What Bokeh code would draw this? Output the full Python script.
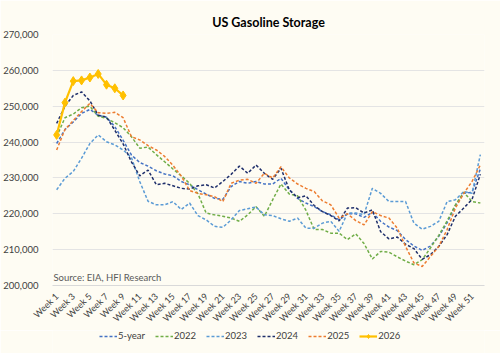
import math
from bokeh.plotting import figure
from bokeh.layouts import column
from bokeh.models import (Range1d, FixedTicker, NumeralTickFormatter, Legend, LegendItem,
                          Label, ColumnDataSource)
from bokeh.embed import file_html
from bokeh.resources import INLINE

# ---- data (thousand barrels / 1000) ----
weeks = list(range(1, 53))
tick_weeks = list(range(1, 53, 2))
tick_labels = [f"Week {w}" for w in tick_weeks]

five_year = [239.6, 243.5, 245.6, 248.0, 249.1, 247.5, 246.9, 244.3, 240.5, 236.4,
             234.3, 233.3, 232.0, 231.1, 230.6, 229.0, 228.1, 226.7, 225.5, 224.3,
             224.0, 227.6, 229.0, 228.5, 229.0, 228.3, 228.3, 229.9, 226.7, 224.3,
             223.0, 222.0, 220.6, 219.7, 218.3, 220.0, 220.0, 219.0, 220.4, 217.9,
             216.3, 215.3, 212.8, 211.0, 209.8, 211.0, 213.7, 217.5, 222.3, 225.7,
             226.0, 232.5]
y2022 = [241.5, 246.8, 247.8, 249.6, 250.0, 247.2, 246.6, 245.4, 244.0, 241.5,
         238.3, 238.6, 236.5, 234.5, 232.5, 230.6, 228.5, 225.6, 220.2, 219.7,
         219.3, 218.8, 217.9, 219.7, 222.0, 219.3, 223.9, 228.3, 225.5, 225.0,
         221.0, 215.6, 215.6, 214.6, 214.6, 212.8, 214.4, 211.7, 207.4, 209.5,
         209.3, 208.0, 206.8, 205.8, 207.2, 210.5, 214.0, 218.0, 222.5, 226.0,
         223.4, 223.0]
y2023 = [226.7, 229.9, 231.8, 235.5, 239.6, 242.0, 240.1, 239.2, 237.8, 235.7,
         229.0, 223.5, 222.5, 222.5, 223.4, 221.2, 223.0, 219.5, 218.3, 216.5,
         216.2, 218.3, 220.9, 221.4, 221.9, 219.7, 219.5, 218.6, 217.9, 218.8,
         216.0, 216.0, 217.4, 217.9, 215.1, 220.2, 220.2, 219.8, 227.1, 225.7,
         223.4, 223.4, 223.4, 217.4, 215.7, 216.5, 217.9, 223.4, 223.9, 226.2,
         225.7, 236.5]
y2024 = [245.2, 250.0, 253.0, 254.0, 251.5, 247.5, 247.0, 243.3, 239.5, 234.5,
         230.6, 232.2, 228.1, 228.5, 227.8, 227.1, 226.9, 227.8, 228.1, 227.2,
         229.0, 231.0, 233.3, 231.3, 233.6, 231.3, 229.6, 232.7, 226.7, 224.5,
         225.0, 222.3, 220.6, 219.5, 218.0, 221.6, 221.7, 220.2, 221.1, 215.0,
         213.0, 213.5, 211.5, 210.3, 207.3, 208.6, 210.9, 214.2, 219.3, 221.6,
         224.0, 231.0]
y2025 = [237.8, 243.5, 246.0, 248.5, 250.8, 248.2, 248.0, 248.3, 246.8, 241.5,
         240.6, 239.0, 237.8, 236.0, 233.5, 230.5, 226.5, 225.7, 225.3, 224.8,
         223.4, 228.5, 229.4, 229.6, 228.5, 231.3, 230.0, 233.1, 230.0, 228.3,
         227.1, 226.2, 223.6, 222.5, 218.8, 220.0, 218.1, 216.9, 220.6, 219.5,
         218.8, 216.0, 210.9, 206.3, 205.3, 208.1, 210.9, 215.6, 221.6, 225.7,
         229.0, 233.6]
y2026 = [242.0, 251.0, 257.0, 257.2, 258.0, 259.0, 256.0, 255.0, 253.0]

series_names = ["5-year", "2022", "2023", "2024", "2025"]
series_vals = [five_year, y2022, y2023, y2024, y2025]
series_colors = ["#4472C4", "#70AD47", "#5B9BD5", "#1F2F6B", "#ED7D31"]
color_2026 = "#FFC000"

BG = "#FEFCF3"
FONT = "Lato"

p = figure(width=500, height=330, output_backend="svg", toolbar_location=None,
           x_range=Range1d(0.5, 52.5), y_range=Range1d(200000, 270000),
           background_fill_color=BG, border_fill_color=BG)
p.min_border_left = 49
p.min_border_right = 16
p.min_border_top = 34
p.min_border_bottom = 36
p.outline_line_color = None

p.title.text = "US Gasoline Storage"
p.title.align = "center"
p.title.text_font = FONT
p.title.text_font_size = "12.5px"
p.title.text_font_style = "bold"
p.title.text_color = "#000000"
p.title.offset = 0

# axes
p.xaxis.ticker = FixedTicker(ticks=tick_weeks)
p.xaxis.major_label_overrides = {w: lab for w, lab in zip(tick_weeks, tick_labels)}
p.xaxis.major_label_orientation = math.pi / 4
p.xaxis.major_label_text_font = FONT
p.xaxis.major_label_text_font_size = "9px"
p.xaxis.major_label_text_color = "#404040"
p.xaxis.axis_line_color = "#D9D9D9"
p.xaxis.major_tick_line_color = None
p.xaxis.minor_tick_line_color = None
p.xaxis.major_label_standoff = 3

p.yaxis.ticker = FixedTicker(ticks=list(range(200000, 270001, 10000)))
p.yaxis.formatter = NumeralTickFormatter(format="0,0")
p.yaxis.major_label_text_font = FONT
p.yaxis.major_label_text_font_size = "9.5px"
p.yaxis.major_label_text_color = "#404040"
p.yaxis.axis_line_color = None
p.yaxis.major_tick_line_color = None
p.yaxis.minor_tick_line_color = None
p.yaxis.major_label_standoff = 8

p.xgrid.grid_line_color = None
p.ygrid.grid_line_color = "#E4E4E4"
p.ygrid.ticker = FixedTicker(ticks=list(range(210000, 270001, 10000)))

for name, vals, col in zip(series_names, series_vals, series_colors):
    src = ColumnDataSource(dict(x=weeks[:len(vals)], y=[v * 1000 for v in vals]))
    p.line("x", "y", source=src, line_color=col, line_width=1.5, line_dash="3 2")

src26 = ColumnDataSource(dict(x=weeks[:len(y2026)], y=[v * 1000 for v in y2026]))
p.line("x", "y", source=src26, line_color=color_2026, line_width=2.2)
p.scatter("x", "y", source=src26, marker="diamond", size=9,
          fill_color=color_2026, line_color=color_2026)

src_label = Label(x=0.62, y=202200, text="Source: EIA, HFI Research",
                  text_font=FONT, text_font_size="9.5px", text_color="#595959",
                  text_baseline="middle", text_align="left")
p.add_layout(src_label)

# ---- legend strip (separate figure below the chart) ----
pl = figure(width=500, height=23, output_backend="svg", toolbar_location=None,
            x_range=Range1d(0, 1), y_range=Range1d(0, 1),
            x_axis_type=None, y_axis_type=None,
            background_fill_color=BG, border_fill_color=BG)
pl.min_border_left = 0
pl.min_border_right = 0
pl.min_border_top = 0
pl.min_border_bottom = 0
pl.outline_line_color = None
pl.xgrid.grid_line_color = None
pl.ygrid.grid_line_color = None

# legend proxies: points placed outside the strip's visible range
proxy = ColumnDataSource(dict(x=[5, 6], y=[5, 6]))
items = []
for name, col in zip(series_names, series_colors):
    r = pl.line("x", "y", source=proxy, line_color=col, line_width=1.5, line_dash="3 2")
    items.append(LegendItem(label=name, renderers=[r]))
rl = pl.line("x", "y", source=proxy, line_color=color_2026, line_width=2.2)
rs = pl.scatter("x", "y", source=proxy, marker="diamond", size=7,
                fill_color=color_2026, line_color=color_2026)
items.append(LegendItem(label="2026", renderers=[rl, rs]))

legend = Legend(items=items, orientation="horizontal", location=(47, 12),
                border_line_color=None, background_fill_alpha=0,
                label_text_font=FONT, label_text_font_size="9.5px",
                label_text_color="#404040", glyph_width=18, glyph_height=10,
                label_standoff=1, spacing=10, padding=0, margin=0)
pl.add_layout(legend)

layout = column(p, pl, spacing=0)
open("out.html", "w").write(file_html(layout, INLINE))
